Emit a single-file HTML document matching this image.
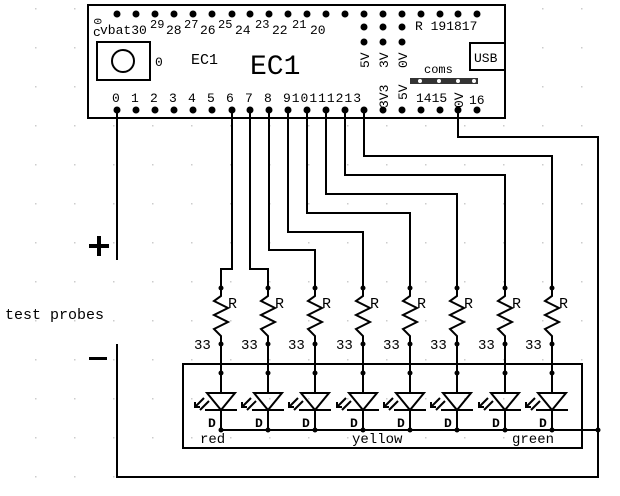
<html><body style="margin:0;background:#fff">
<svg width="620" height="496" viewBox="0 0 620 496" xmlns="http://www.w3.org/2000/svg" xmlns:xlink="http://www.w3.org/1999/xlink" font-family="Liberation Mono, monospace">
<defs>
<pattern id="g" width="39" height="39" patternUnits="userSpaceOnUse" x="-4" y="8"><rect x="0" y="0" width="1.5" height="1.5" fill="#ccc"/></pattern>
<g id="cell">
<g stroke="#000" stroke-width="2" fill="none">
<polyline points="0,288 0,296 -7,301 7,308 -7,315 7,322 -7,329 0,336 0,393"/>
<polygon points="-14,393 14,393 0,410"/>
<line x1="-16" y1="410" x2="16" y2="410"/>
<line x1="0" y1="410" x2="0" y2="430"/>
<line x1="-17" y1="398" x2="-26" y2="407"/>
<line x1="-12" y1="401" x2="-21" y2="410"/>
<polyline points="-26,402 -26,407 -21,407"/>
</g>
<circle cx="0" cy="288" r="2.5"/><circle cx="0" cy="344" r="2.5"/><circle cx="0" cy="373" r="2.5"/><circle cx="0" cy="430" r="2.5"/>
</g>
<g id="pin"><circle cx="0" cy="14" r="3.5"/><circle cx="0" cy="110" r="3.5"/></g>
</defs>
<rect width="620" height="496" fill="url(#g)"/>
<g stroke="#000" stroke-width="2" fill="none">
<rect x="88" y="5" width="417" height="113" fill="#fff"/>
<rect x="470" y="43" width="35" height="27" fill="#fff"/>
<rect x="97" y="42" width="53" height="38"/>
<circle cx="123" cy="61" r="11"/>
<rect x="183" y="364" width="399" height="84"/>
<polyline points="117,108 117,260"/>
<polyline points="117,344 117,477 598,477 598,137 458,137 458,108"/>
<polyline points="232,108 232,269 221,269 221,288"/>
<polyline points="250,108 250,269 268,269 268,288"/>
<polyline points="269,108 269,250 315,250 315,288"/>
<polyline points="288,108 288,232 363,232 363,288"/>
<polyline points="307,108 307,213 410,213 410,288"/>
<polyline points="326,108 326,194 457,194 457,288"/>
<polyline points="345,108 345,175 505,175 505,288"/>
<polyline points="364,108 364,156 552,156 552,288"/>
<line x1="221" y1="430" x2="598" y2="430"/>
</g>
<rect x="410" y="78" width="68" height="6" fill="#333"/>
<g fill="#fff"><circle cx="420" cy="81" r="2"/><circle cx="439" cy="81" r="2"/><circle cx="458" cy="81" r="2"/><circle cx="474" cy="81" r="2"/></g>
<g fill="#000">
<use xlink:href="#pin" x="117"/><use xlink:href="#pin" x="136"/><use xlink:href="#pin" x="155"/><use xlink:href="#pin" x="174"/><use xlink:href="#pin" x="193"/><use xlink:href="#pin" x="212"/><use xlink:href="#pin" x="232"/><use xlink:href="#pin" x="250"/><use xlink:href="#pin" x="269"/><use xlink:href="#pin" x="288"/><use xlink:href="#pin" x="307"/><use xlink:href="#pin" x="326"/><use xlink:href="#pin" x="345"/><use xlink:href="#pin" x="364"/><use xlink:href="#pin" x="383"/><use xlink:href="#pin" x="402"/><use xlink:href="#pin" x="421"/><use xlink:href="#pin" x="440"/><use xlink:href="#pin" x="458"/><use xlink:href="#pin" x="477"/>
<circle cx="364" cy="27" r="3.5"/><circle cx="383" cy="27" r="3.5"/><circle cx="402" cy="27" r="3.5"/>
<circle cx="364" cy="42" r="3.5"/><circle cx="383" cy="42" r="3.5"/><circle cx="402" cy="42" r="3.5"/>
<use xlink:href="#cell" x="221"/><use xlink:href="#cell" x="268"/><use xlink:href="#cell" x="315"/><use xlink:href="#cell" x="363"/><use xlink:href="#cell" x="410"/><use xlink:href="#cell" x="457"/><use xlink:href="#cell" x="505"/><use xlink:href="#cell" x="552"/>
<circle cx="598" cy="430" r="2.5"/>
</g>
<g fill="#000" font-size="13">
<text x="100" y="34">vbat30</text>
<text x="150" y="28" font-size="12">29</text><text x="166" y="34">28</text>
<text x="184" y="28" font-size="12">27</text><text x="200" y="34">26</text>
<text x="218" y="28" font-size="12">25</text><text x="235" y="34">24</text>
<text x="255" y="28" font-size="12">23</text><text x="272" y="34">22</text>
<text x="292" y="28" font-size="12">21</text><text x="310" y="34">20</text>
<text x="415" y="30">R 191817</text>
<text transform="translate(94,18) rotate(90)" font-size="11">0</text>
<text x="93" y="36" font-size="13">c</text>
<text x="155" y="66">0</text>
<text x="191" y="64" font-size="15">EC1</text>
<text x="250" y="74" font-size="28">EC1</text>
<text x="474" y="62" font-size="13">USB</text>
<text x="424" y="73" font-size="12">coms</text>
<text x="112" y="102">0</text><text x="131" y="102">1</text><text x="150" y="102">2</text><text x="169" y="102">3</text><text x="188" y="102">4</text><text x="207" y="102">5</text><text x="226" y="102">6</text><text x="245" y="102">7</text><text x="264" y="102">8</text>
<text x="283" y="102" textLength="78">910111213</text>
<text x="416" y="102">1415</text>
<text x="469" y="104">16</text>
<text transform="translate(369,68) rotate(-90)">5V</text>
<text transform="translate(388,68) rotate(-90)">3V</text>
<text transform="translate(407,68) rotate(-90)">0V</text>
<text transform="translate(388,108) rotate(-90)">3V3</text>
<text transform="translate(407,100) rotate(-90)">5V</text>
<text transform="translate(463,108) rotate(-90)">0V</text>
<text x="5" y="319" font-size="15">test probes</text>
<rect x="89" y="244" width="20" height="4"/><rect x="97" y="236" width="4" height="20"/>
<rect x="89" y="357" width="18" height="3"/>
<text x="200" y="443" font-size="14">red</text>
<text x="352" y="443" font-size="14">yellow</text>
<text x="512" y="443" font-size="14">green</text>
<text x="228" y="308" font-size="15">R</text><text x="194" y="349" font-size="14">33</text><text x="208" y="427" font-size="13" font-weight="bold">D</text>
<text x="275" y="308" font-size="15">R</text><text x="241" y="349" font-size="14">33</text><text x="255" y="427" font-size="13" font-weight="bold">D</text>
<text x="322" y="308" font-size="15">R</text><text x="288" y="349" font-size="14">33</text><text x="302" y="427" font-size="13" font-weight="bold">D</text>
<text x="370" y="308" font-size="15">R</text><text x="336" y="349" font-size="14">33</text><text x="350" y="427" font-size="13" font-weight="bold">D</text>
<text x="417" y="308" font-size="15">R</text><text x="383" y="349" font-size="14">33</text><text x="397" y="427" font-size="13" font-weight="bold">D</text>
<text x="464" y="308" font-size="15">R</text><text x="430" y="349" font-size="14">33</text><text x="444" y="427" font-size="13" font-weight="bold">D</text>
<text x="512" y="308" font-size="15">R</text><text x="478" y="349" font-size="14">33</text><text x="492" y="427" font-size="13" font-weight="bold">D</text>
<text x="559" y="308" font-size="15">R</text><text x="525" y="349" font-size="14">33</text><text x="539" y="427" font-size="13" font-weight="bold">D</text>
</g>
</svg>
</body></html>
